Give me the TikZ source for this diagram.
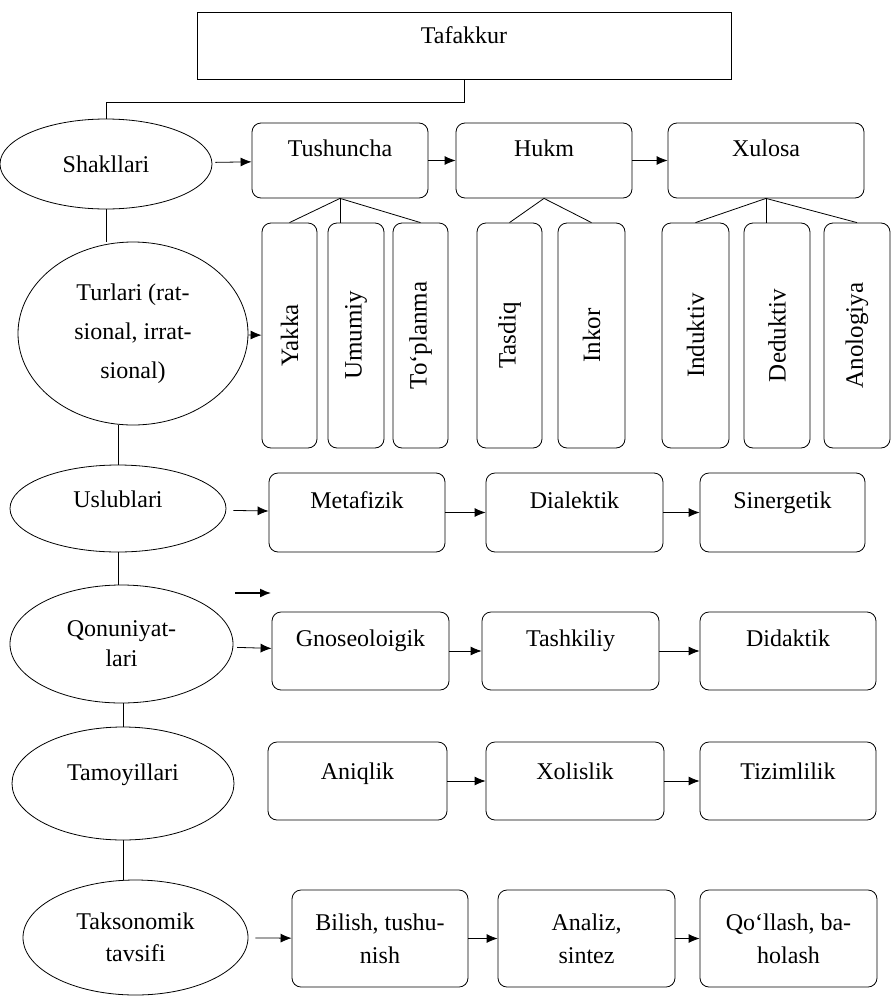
\documentclass[tikz,border=0pt]{standalone}
\usepackage{fontspec}
\setmainfont{Liberation Serif}
\usetikzlibrary{arrows.meta,shapes.geometric}
\begin{document}
\begin{tikzpicture}[x=1pt,y=-1pt,
  every node/.style={font=\fontsize{24}{30}\selectfont},
  ln/.style={line width=0.8pt},
  arr/.style={ln,-{Latex[length=11pt,width=9pt]}},
  rbox/.style={draw,ln,rounded corners=9pt,inner sep=0pt},
  oval/.style={draw,ln,ellipse,inner sep=0pt,align=center},
  vbox/.style={rbox,rotate=90,minimum width=225pt,font=\fontsize{25}{30}\selectfont},
  rowa/.style={rbox,text height=33pt,text depth=42pt},
  rowc/.style={rbox,text height=35pt,text depth=44pt},
  rowd/.style={rbox,text height=34pt,text depth=44pt},
  rowe/.style={rbox,text height=37pt,text depth=41pt},
  rowf/.style={rbox,minimum height=97pt,align=center,font=\fontsize{24}{33}\selectfont}
]
\useasboundingbox (0,0) rectangle (892,996);

% top
\node[draw,ln,inner sep=0pt,minimum width=534pt,text height=31pt,text depth=36pt] (taf) at (464,45.5) {Tafakkur};

% ellipses
\node[oval,minimum width=212pt,minimum height=90pt] (shak) at (106,164) {Shakllari};
\node[oval,minimum width=230pt,minimum height=183pt,font=\fontsize{24}{39}\selectfont] (turl) at (133,333.5) {Turlari (rat-\\sional, irrat-\\sional)};
\node[oval,minimum width=216pt,minimum height=87pt,text height=16pt,text depth=18pt] (usl) at (118,508.5) {Uslublari};
\node[oval,minimum width=223pt,minimum height=118pt] (qon) at (121.5,644) {Qonuniyat-\\lari};
\node[oval,minimum width=222pt,minimum height=113pt,text height=16pt,text depth=22pt] (tam) at (123,783.5) {Tamoyillari};
\node[oval,minimum width=225pt,minimum height=115pt,font=\fontsize{24}{32}\selectfont] (tak) at (135.5,937.5) {Taksonomik\\tavsifi};

% row 1
\node[rowa,minimum width=176pt] (tush) at (340,160.5) {Tushuncha};
\node[rowa,minimum width=176pt] (hukm) at (544,160.5) {Hukm};
\node[rowa,minimum width=196pt] (xul) at (766,160.5) {Xulosa};

% row 2 (vertical)
\node[vbox,minimum height=55pt] (yakka) at (289.5,335.5) {Yakka};
\node[vbox,minimum height=56pt] (umum) at (356,335.5) {Umumiy};
\node[vbox,minimum height=55pt] (topl) at (420.5,335.5) {To‘planma};
\node[vbox,minimum height=65pt] (tasd) at (509.5,335.5) {Tasdiq};
\node[vbox,minimum height=67pt] (inkor) at (591.5,335.5) {Inkor};
\node[vbox,minimum height=67pt] (induk) at (695.5,335.5) {Induktiv};
\node[vbox,minimum height=66pt] (deduk) at (777,335.5) {Deduktiv};
\node[vbox,minimum height=66pt] (anol) at (857,335.5) {Anologiya};

% row 3
\node[rowc,minimum width=176pt] (meta) at (357,512.5) {Metafizik};
\node[rowc,minimum width=177pt] (dial) at (574.5,512.5) {Dialektik};
\node[rowc,minimum width=165pt] (sin) at (782.5,512.5) {Sinergetik};

% row 4
\node[rowd,minimum width=177pt] (gno) at (360.5,651) {Gnoseoloigik};
\node[rowd,minimum width=177pt] (tash) at (570.5,651) {Tashkiliy};
\node[rowd,minimum width=176pt] (did) at (788,651) {Didaktik};

% row 5
\node[rowe,minimum width=179pt] (ani) at (357.5,781) {Aniqlik};
\node[rowe,minimum width=178pt] (xol) at (575,781) {Xolislik};
\node[rowe,minimum width=176pt] (tiz) at (788,781) {Tizimlilik};

% row 6
\node[rowf,minimum width=176pt] (bil) at (380,938.5) {Bilish, tushu-\\nish};
\node[rowf,minimum width=177pt] (anal) at (586.5,938.5) {Analiz,\\sintez};
\node[rowf,minimum width=177pt] (qol) at (788.5,938.5) {Qo‘llash, ba-\\holash};

% spine
\draw[ln] (taf.south) -- ++(0,23) -| (shak.north);
\draw[ln] (shak.south) -- (shak.south |- turl.north);
\draw[ln] (usl.north) -- (usl.north |- turl.south);
\draw[ln] (usl.south) -- (usl.south |- qon.north);
\draw[ln] (tam.north) -- (tam.north |- qon.south);
\draw[ln] (tam.south) -- (tam.south |- tak.north);

% row 1 arrows and trees
\draw[arr,shorten <=3pt] (shak) -- (tush);
\draw[arr] (tush) -- (hukm);
\draw[arr] (hukm) -- (xul);
\draw[ln] (yakka.east) -- (tush.south) -- (topl.east);
\draw[ln] (tush.south) -- (tush.south |- umum.east);
\draw[ln] (tasd.east) -- (hukm.south) -- (inkor.east);
\draw[ln] (induk.east) -- (xul.south) -- (anol.east);
\draw[ln] (xul.south) -- (xul.south |- deduk.east);

% row 2 arrow
\draw[arr] (turl) -- (yakka);

% row 3
\draw[arr,shorten <=7pt] (usl) -- (meta);
\draw[arr] (meta) -- (dial);
\draw[arr] (dial) -- (sin);

% stray arrow
\coordinate (s1) at (235,593);
\coordinate (s2) at (271,593);
\draw[line width=1.4pt,-{Latex[length=11pt,width=9pt]}] (s1) -- (s2);

% row 4
\draw[arr,shorten <=4pt] (qon) -- (gno);
\draw[arr] (gno) -- (tash);
\draw[arr] (tash) -- (did);

% row 5
\draw[arr] (ani) -- (xol);
\draw[arr] (xol) -- (tiz);

% row 6
\draw[arr,shorten <=7pt] (tak) -- (bil);
\draw[arr] (bil) -- (anal);
\draw[arr] (anal) -- (qol);
\end{tikzpicture}
\end{document}
